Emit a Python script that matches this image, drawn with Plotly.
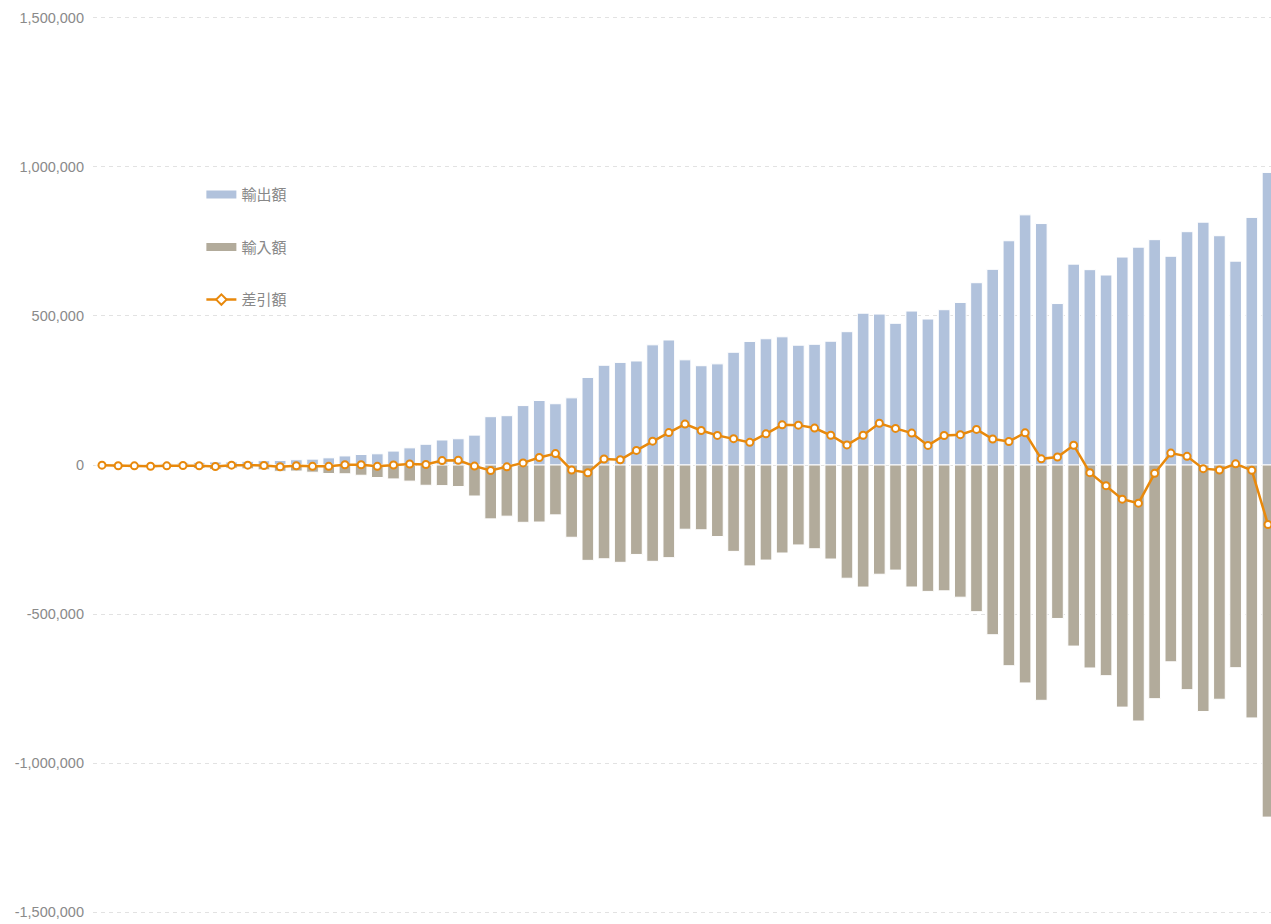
import plotly.graph_objects as go

years = list(range(1950, 2023))

exports = [2980, 4888, 4582, 4589, 5865, 7238, 9007, 10290, 10345, 12446,
           14596, 15248, 17639, 19627, 24023, 30426, 35195, 37590, 46757, 57564,
           69544, 83928, 88061, 100314, 162079, 165453, 199346, 216481, 205558, 225315,
           293825, 334690, 344325, 349093, 403253, 419557, 352897, 333152, 339392, 378225,
           414569, 423599, 430123, 402024, 404976, 415309, 447313, 509380, 506450, 475476,
           516542, 489792, 521090, 545484, 611700, 656565, 752462, 839314, 810181, 541706,
           673996, 655465, 637476, 697742, 730930, 756139, 700358, 782865, 814788, 769317,
           683991, 830914, 981736]

imports = [3482, 7369, 7305, 8695, 8625, 8897, 11629, 15424, 10950, 12993,
           16168, 20999, 20268, 24113, 28575, 29408, 34283, 41987, 46754, 54085,
           67972, 69100, 72290, 104044, 180764, 171700, 192292, 191318, 167276, 242454,
           319953, 314641, 326563, 300148, 323211, 310849, 215507, 217369, 240063, 289786,
           338552, 319002, 295274, 268264, 281043, 315488, 379934, 409562, 366536, 352680,
           409384, 424155, 422275, 443620, 492166, 569494, 673443, 731359, 789547, 514994,
           607650, 681112, 706886, 812425, 859091, 784055, 660420, 753792, 827033, 785995,
           680108, 848750, 1181573]

balance = [-502, -2481, -2723, -4106, -2760, -1659, -2622, -5134, -605, -547,
           -1572, -5751, -2629, -4486, -4552, 1018, 912, -4397, 3, 3479,
           1572, 14828, 15771, -3730, -18685, -6247, 7054, 25163, 38282, -17139,
           -26128, 20049, 17762, 48945, 80042, 108708, 137390, 115783, 99329, 88439,
           76017, 104597, 134849, 133760, 123933, 99821, 67379, 99818, 139914, 122796,
           107158, 65637, 98815, 101864, 119534, 87071, 79019, 107955, 20634, 26712,
           66346, -25647, -69410, -114683, -128161, -27916, 39938, 29073, -12245, -16678,
           3883, -17836, -199713]

tick_vals = [-1500000, -1000000, -500000, 0, 500000, 1000000, 1500000]
tick_text = ["-1,500,000", "-1,000,000", "-500,000", "0", "500,000", "1,000,000", "1,500,000"]

jp_font = "Noto Sans CJK JP, sans-serif"
num_font = "Liberation Sans, Arial, sans-serif"
c_exp = "#b1c2dc"
c_imp = "#b2ab9b"
c_bal = "#e8890c"

fig = go.Figure()
fig.add_trace(go.Bar(
    x=years, y=exports, name="輸出額", showlegend=False,
    marker=dict(color=c_exp, line=dict(color="white", width=1)),
    width=0.72,
))
fig.add_trace(go.Bar(
    x=years, y=[-v for v in imports], name="輸入額", showlegend=False,
    marker=dict(color=c_imp, line=dict(color="white", width=1)),
    width=0.72,
))
fig.add_trace(go.Scatter(
    x=years, y=balance, name="差引額", showlegend=False, mode="lines+markers",
    line=dict(color=c_bal, width=2.5),
    marker=dict(symbol="circle", size=7, color="white",
                line=dict(color=c_bal, width=2)),
))
# legend entries
fig.add_trace(go.Scatter(
    x=[None], y=[None], name="輸出額", legendgroup="a", mode="lines",
    line=dict(color=c_exp, width=8),
))
fig.add_trace(go.Scatter(
    x=[None], y=[None], name="輸入額", legendgroup="b", mode="lines",
    line=dict(color=c_imp, width=8),
))
fig.add_trace(go.Scatter(
    x=[None], y=[None], name="差引額", legendgroup="c", mode="lines+markers",
    line=dict(color=c_bal, width=2.5),
    marker=dict(symbol="diamond", size=8, color="white",
                line=dict(color=c_bal, width=2)),
))

fig.update_layout(
    width=1271, height=924,
    margin=dict(l=93, r=0, t=15, b=9),
    paper_bgcolor="white", plot_bgcolor="white",
    barmode="relative",
    showlegend=True,
    legend=dict(
        x=0.092, y=0.8185, xanchor="left", yanchor="top",
        font=dict(family=jp_font, size=15, color="#888888"),
        tracegroupgap=30, traceorder="grouped",
        bgcolor="rgba(0,0,0,0)",
    ),
    font=dict(family=num_font, color="#888888"),
)
fig.update_xaxes(
    range=[1950 - 0.556, 2022 + 0.185],
    showticklabels=False, showgrid=False, zeroline=False, showline=False,
    ticks="",
)
fig.update_yaxes(
    range=[-1510000, 1510000],
    tickvals=tick_vals, ticktext=tick_text,
    tickfont=dict(size=14.5, color="#8a8a8a", family=num_font),
    showgrid=True, gridcolor="#e2e2e2", gridwidth=1, griddash="4px,4px",
    zeroline=False, showline=False, ticks="", ticklabelstandoff=8,
)

fig.write_html(
    "out.html",
    config={"displayModeBar": False},
    post_script="document.body.style.margin='0';document.body.style.overflow='hidden';",
)
